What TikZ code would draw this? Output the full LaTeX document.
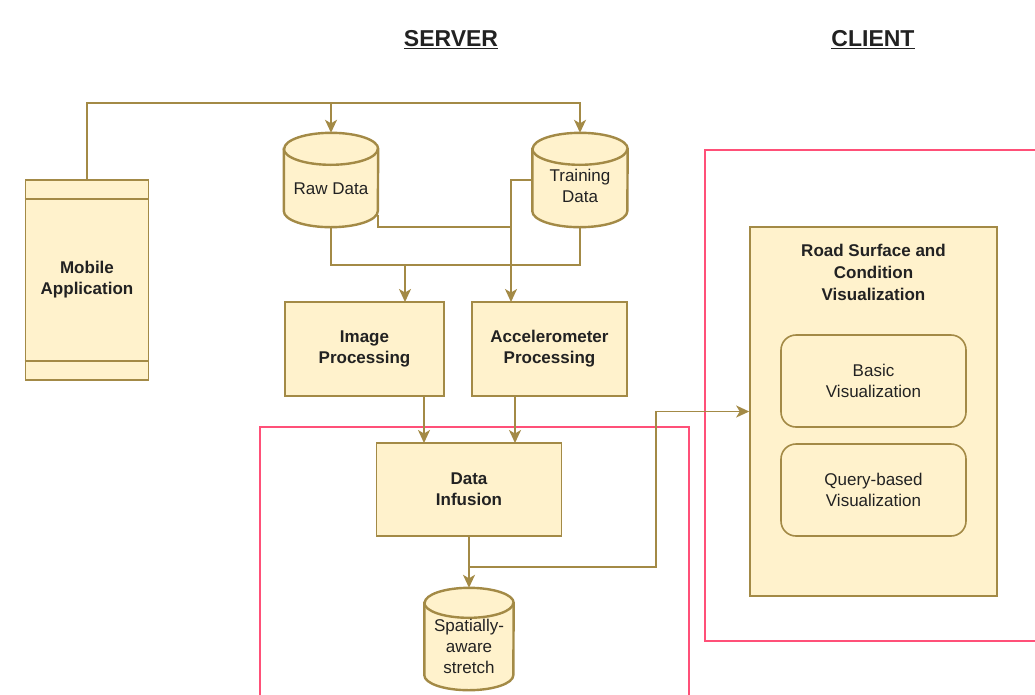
\documentclass[tikz,border=0pt]{standalone}
\usepackage{fontspec}
\setmainfont{Liberation Sans}
\usetikzlibrary{calc,arrows.meta,backgrounds}
\definecolor{boxfill}{HTML}{FFF2CC}
\definecolor{boxline}{RGB}{163,138,70}
\definecolor{framepink}{RGB}{255,80,120}
\definecolor{textgray}{RGB}{34,34,34}
\tikzset{
  proc/.style={draw=boxline,fill=boxfill,line width=1.6pt,inner sep=0pt,align=center,text=textgray,font=\fontsize{17}{21}\selectfont\bfseries},
  soft/.style={proc,rounded corners=15pt,font=\fontsize{17}{21}\selectfont},
  dbbox/.style={inner sep=0pt,align=center,text=textgray,font=\fontsize{17}{21}\selectfont},
  dbshape/.style={draw=boxline,fill=boxfill,line width=2.4pt},
  link/.style={draw=boxline,line width=1.7pt},
  arr/.style={link,-{Stealth[length=13pt,width=12pt,inset=3.5pt]}},
  pinkframe/.style={draw=framepink,line width=1.6pt},
  heading/.style={font=\fontsize{23}{27}\selectfont\bfseries,text=textgray}
}
% cylinder drawn round a named node: name, x radius, y radius
\newcommand{\dbdraw}[3]{%
  \path[dbshape] ($(#1.north west)+(0,#3)$) -- ($(#1.south west)+(0,-#3)$)
    arc[start angle=180,end angle=0,x radius=#2,y radius=#3]
    -- ($(#1.north east)+(0,#3)$)
    arc[start angle=0,end angle=-180,x radius=#2,y radius=#3] -- cycle;
  \draw[boxline,line width=2.4pt] ($(#1.north west)+(0,#3)$)
    arc[start angle=180,end angle=0,x radius=#2,y radius=#3];}
% text lowered into the body of a cylinder
\newcommand{\dblines}[2]{\raisebox{-#1}[0pt][0pt]{\begin{tabular}{@{}c@{}}#2\end{tabular}}}
\begin{document}
\begin{tikzpicture}[x=1pt,y=-1pt]
  \useasboundingbox (0,0) rectangle (1035,694);
  \node[heading] (server) at (451,40) {\underline{SERVER}};
  \node[heading] (client) at (873,40) {\underline{CLIENT}};
  \draw[pinkframe] (260,427) rectangle (689,700);
  \draw[pinkframe] (705,150) rectangle (1045,641);

  \node[proc,minimum width=123pt,minimum height=200pt] (app) at (87,280) {Mobile\\Application};
  \draw[boxline,line width=1.6pt] ($(app.north west)+(0,20)$) -- ($(app.north east)+(0,20)$);
  \draw[boxline,line width=1.6pt] ($(app.south west)+(0,-20)$) -- ($(app.south east)+(0,-20)$);

  \node[dbbox,minimum width=94pt,minimum height=94pt] (raw) at (331,180) {\raisebox{-14pt}[0pt][0pt]{Raw Data}};
  \node[dbbox,minimum width=95pt,minimum height=94pt] (train) at (580,180) {\dblines{12.5pt}{Training\\Data}};
  \node[dbbox,minimum width=89pt,minimum height=102pt] (spatial) at (469,639) {\dblines{13.5pt}{Spatially-\\aware\\stretch}};
  \begin{scope}[on background layer]
    \dbdraw{raw}{47}{16}
    \dbdraw{train}{47.5}{16}
    \dbdraw{spatial}{44.5}{15}
  \end{scope}

  \node[proc,minimum width=159pt,minimum height=94pt] (img) at (364.5,349) {Image\\Processing};
  \node[proc,minimum width=155pt,minimum height=94pt] (acc) at (549.5,349) {Accelerometer\\Processing};
  \node[proc,minimum width=185pt,minimum height=93pt] (inf) at (469,489.5) {Data\\Infusion};

  \node[proc,minimum width=247pt,minimum height=369pt] (road) at (873.5,411.5) {};
  \node[proc,draw=none,fill=none,anchor=north,font=\fontsize{17}{22}\selectfont\bfseries] (roadtitle) at ($(road.north)+(0,17)$) {Road Surface and\\Condition\\Visualization};
  \node[soft,minimum width=185pt,minimum height=92pt] (basic) at (873.5,381) {Basic\\Visualization};
  \node[soft,minimum width=185pt,minimum height=92pt] (query) at (873.5,490) {Query-based\\Visualization};

  \coordinate (bustop) at (0,103);
  \coordinate (accin) at (511,302);
  \coordinate (imgin) at (405,302);
  \coordinate (merge) at (0,265);
  \coordinate (infa) at (424,443);
  \coordinate (infb) at (515,443);
  \coordinate (bend) at (656,567);

  \draw[arr] (app.north) -- (app.north |- bustop) -| (train.north);
  \draw[arr] (raw.north |- bustop) -- (raw.north);
  \draw[arr] (train.west) -| (accin);
  \draw[link] ($(raw.south east)+(0,-12)$) |- (accin |- raw.south);
  \draw[link] (raw.south) |- (imgin |- merge) -| (train.south);
  \draw[arr] (imgin |- merge) -- (imgin);
  \draw[arr] (infa |- img.south) -- (infa);
  \draw[arr] (infb |- acc.south) -- (infb);
  \draw[arr] (inf.south) -- (spatial.north);
  \draw[arr] (inf.south |- bend) -- (bend) |- (road.west);
\end{tikzpicture}
\end{document}
